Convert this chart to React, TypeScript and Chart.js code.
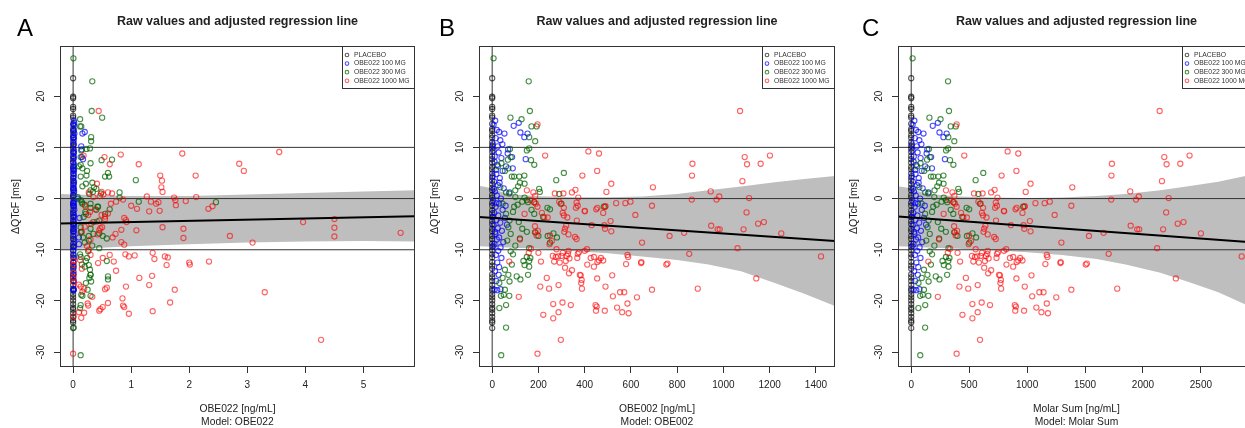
import React, { useEffect, useRef } from "react";
import { Chart, registerables } from "chart.js";

Chart.register(...registerables);

const FONT = '"Liberation Sans", Arial, Helvetica, sans-serif';
const TEXT_COLOR = "#222";
const AXIS_COLOR = "#333";
const BAND_COLOR = "#BEBEBE";

const TITLE = "Raw values and adjusted regression line";
const Y_TITLE = "ΔQTcF [ms]";
const Y_TICKS = [-30, -20, -10, 0, 10, 20];
const Y_MIN = -32.9;
const Y_MAX = 29.8;
const REF_Y = [10, 0, -10];

const GROUP_LABELS = ["PLACEBO", "OBE022 100 MG", "OBE022 300 MG", "OBE022 1000 MG"];
const GROUP_COLORS = ["rgba(0,0,0,0.65)", "rgba(0,0,255,0.7)", "rgba(0,100,0,0.72)", "rgba(255,0,0,0.62)"];

// Placebo: concentration 0 in every panel, ΔQTcF values
const PLACEBO_Y = [
  23.5, 19.9, 19.6, 17.9, 17.5, 16.2, 15.8, 14.6, 13.6, 13.2, 12.4, 11.9, 11.0, 10.3, 9.8, 9.1,
  8.3, 7.7, 7.0, 6.2, 5.7, 4.9, 4.1, 3.5, 2.8, 2.1, 1.6, 0.7, 0.2, -0.8, -1.4, -2.3, -2.9, -3.6,
  -4.4, -5.0, -5.9, -6.4, -7.3, -7.9, -8.8, -9.4, -10.1, -10.9, -11.5, -12.4, -13.1, -13.7,
  -14.8, -15.4, -16.1, -16.9, -17.6, -18.0, -18.7, -19.3, -19.9, -20.6, -21.3, -21.7, -22.4,
  -23.1, -23.8, -24.2, -25.3,
];

// OBE022 100 MG: [OBE022, OBE002, Molar Sum, ΔQTcF]
const BLUE = [
  [0.012, 13, 27, 15.2], [0.008, 6, 12, 14.4], [0.015, 20, 41, 13.4], [0.16, 53, 106, 12.7],
  [0.2, 30, 61, 13.0], [0.01, 93, 186, 14.2], [0.018, 115, 230, 14.8], [0.006, 122, 244, 12.9],
  [0.014, 139, 278, 12.0], [0.022, 153, 306, 12.7], [0.17, 145, 291, 7.7], [0.15, 86, 172, 8.1],
  [0.009, 89, 179, 5.9], [0.012, 67, 133, 8.8], [0.005, 60, 121, 6.3], [0.14, 24, 48, 10.2],
  [0.15, 69, 139, 9.6], [0.011, 35, 70, 11.4], [0.004, 15, 31, 11.8], [0.016, 5, 10, 9.4],
  [0.007, 28, 55, 9.0], [0.013, 40, 81, 7.9], [0.003, 10, 21, 7.2], [0.019, 22, 43, 6.6],
  [0.008, 45, 90, 5.4], [0.012, 18, 37, 4.8], [0.006, 33, 65, 4.0], [0.015, 8, 15, 3.3],
  [0.01, 25, 51, 2.6], [0.004, 50, 99, 2.0], [0.017, 12, 24, 1.4], [0.08, 38, 77, 0.0],
  [0.009, 20, 39, 0.6], [0.013, 4, 9, -0.4], [0.006, 30, 59, -1.0], [0.011, 15, 30, -1.6],
  [0.02, 45, 91, -2.2], [0.005, 9, 18, -2.8], [0.014, 26, 53, -3.3], [0.11, 55, 110, -3.8],
  [0.008, 18, 36, -4.2], [0.012, 35, 69, -4.7], [0.003, 6, 13, -5.2], [0.016, 24, 49, -5.8],
  [0.01, 42, 84, -6.3], [0.007, 14, 28, -6.9], [0.1, 30, 60, -7.6], [0.012, 20, 41, -8.0],
  [0.018, 48, 95, -8.5], [0.1, 10, 20, -8.9], [0.009, 36, 72, -9.5], [0.005, 26, 52, -10.2],
  [0.011, 16, 32, -11.0], [0.014, 40, 80, -11.6], [0.006, 22, 45, -12.5], [0.01, 30, 61, -13.4],
  [0.004, 12, 25, -14.2], [0.008, 28, 57, -14.9], [0.012, 18, 35, -16.1], [0.006, 10, 20, -17.8],
  [0.009, 22, 44, -17.9], [0.01, 36, 71, -17.7], [0.012, 3, 6, 10.6], [0.007, 11, 22, 8.2],
  [0.015, 16, 33, 5.6], [0.009, 2, 5, 4.4], [0.013, 7, 14, 1.9], [0.006, 17, 35, -0.9],
  [0.011, 3, 7, -3.6], [0.008, 13, 26, -6.5], [0.014, 5, 11, -9.3], [0.01, 32, 64, 3.1],
  [0.012, 58, 117, -1.4], [0.007, 44, 88, 10.6], [0.016, 64, 128, -5.1], [0.01, 75, 150, 1.2],
];

// OBE022 300 MG: [OBE022, OBE002, Molar Sum, ΔQTcF]
const GREEN = [
  [0.005, 6, 12, 27.4], [0.33, 158, 318, 22.9], [0.32, 163, 326, 17.1], [0.5, 79, 157, 15.8],
  [0.12, 127, 253, 15.5], [0.14, 170, 341, 14.1], [0.12, 192, 384, 14.1], [0.31, 160, 320, 12.0],
  [0.31, 186, 372, 11.2], [0.14, 150, 301, 9.4], [0.29, 160, 319, 9.8], [0.23, 77, 153, 9.7],
  [0.67, 68, 137, 7.6], [0.13, 80, 161, 8.1], [0.49, 168, 335, 7.5], [0.13, 182, 364, 6.6],
  [0.23, 139, 278, 4.5], [1.08, 277, 556, 3.6], [0.6, 310, 622, 5.0], [0.1, 25, 50, 6.3],
  [0.3, 40, 80, 6.9], [0.24, 55, 112, 5.4], [0.13, 85, 170, 4.3], [0.16, 70, 140, 5.9],
  [0.62, 95, 191, 4.3], [0.33, 120, 240, 3.1], [0.16, 112, 225, 2.4], [0.3, 100, 201, 1.6],
  [0.48, 74, 147, 1.0], [0.8, 60, 121, 1.2], [0.34, 206, 413, 1.3], [0.8, 140, 281, 0.2],
  [0.13, 150, 300, -0.3], [2.46, 155, 311, -0.7], [1.13, 130, 262, -0.6], [0.2, 110, 219, -1.2],
  [0.43, 95, 190, -1.6], [0.3, 239, 478, -1.8], [0.63, 250, 500, -2.1], [0.55, 117, 234, 4.3],
  [0.22, 140, 279, 2.9], [0.4, 203, 406, 1.9], [0.15, 182, 365, -0.7], [0.55, 182, 363, -3.0],
  [0.4, 170, 341, -2.2], [0.18, 220, 441, -3.6], [0.3, 297, 594, -1.0], [0.42, 483, 966, -1.6],
  [0.28, 290, 580, 0.9], [0.13, 185, 371, -6.6], [0.27, 200, 399, -7.3], [0.51, 240, 481, -7.3],
  [0.2, 250, 502, -8.6], [0.45, 265, 529, -6.8], [0.17, 280, 560, -7.6], [0.58, 120, 241, -7.8],
  [0.3, 130, 259, -5.9], [0.14, 150, 299, -6.5], [0.22, 60, 120, -3.0], [0.45, 75, 150, -4.3],
  [0.13, 70, 141, -5.6], [0.35, 80, 160, -6.9], [0.27, 65, 130, -8.2], [0.45, 160, 322, -9.7],
  [0.58, 160, 320, -12.2], [0.6, 106, 212, -15.2], [0.6, 122, 244, -15.8], [0.13, 39, 78, -30.6],
  [0.01, 60, 120, -25.2], [0.13, 60, 121, -20.8], [0.12, 31, 62, -21.4], [0.14, 50, 100, -18.8],
  [0.16, 38, 77, -19.0], [0.3, 74, 148, -19.0], [0.22, 31, 63, -16.5], [0.28, 45, 91, -15.5],
  [0.3, 70, 140, -14.9], [0.25, 55, 110, -17.8], [0.27, 140, 281, -13.0], [0.22, 135, 270, -12.2],
  [0.13, 150, 300, -11.4], [0.3, 155, 310, -14.9], [0.2, 160, 322, -13.3], [0.24, 165, 330, -11.6],
  [0.15, 85, 170, -12.9], [0.29, 55, 110, -13.9], [0.31, 75, 150, -16.2], [0.26, 80, 160, -10.3],
  [0.12, 90, 180, -10.9], [0.33, 100, 200, -9.2], [0.35, 115, 230, -4.6], [0.16, 45, 90, -1.0],
  [0.36, 35, 70, 2.2], [0.21, 90, 180, -2.6], [0.08, 100, 199, 0.3],
];

// OBE022 1000 MG, panel A: [OBE022, ΔQTcF]
const RED_A = [
  [0.44, 17.1], [0.18, 8.4], [0.54, 8.1], [0.63, 6.7], [0.82, 8.6], [1.13, 6.7], [1.88, 8.8],
  [3.55, 9.1], [2.86, 6.8], [2.94, 5.4], [2.11, 4.5], [1.5, 4.5], [1.53, 3.5], [1.52, 2.2],
  [1.54, 1.3], [0.41, 2.9], [0.27, 1.2], [0.49, 1.3], [0.52, 0.8], [0.46, 0.5], [0.6, 1.2],
  [0.67, 1.0], [1.27, 0.4], [1.74, 0.2], [1.76, -0.3], [2.12, 0.3], [1.34, -0.6], [1.47, -0.7],
  [0.74, -0.6], [0.86, -0.2], [1.94, -0.5], [2.33, -2.0], [2.4, -1.5], [1.0, -1.4], [1.1, -2.0],
  [1.49, -2.4], [1.31, -2.5], [1.43, -1.0], [1.77, -1.3], [0.91, -4.2], [0.88, -3.8], [1.09, -6.2],
  [0.73, -6.9], [0.68, -7.6], [0.83, -6.1], [0.88, -9.0], [0.49, -3.2], [0.41, -4.5], [0.47, -5.8],
  [0.31, -4.9], [0.21, -1.5], [0.26, -3.2], [0.2, -5.5], [0.38, -2.1], [0.42, -7.0], [0.3, -8.0],
  [0.15, -6.5], [0.24, -9.3], [0.55, -3.5], [0.65, -1.0], [0.0, -30.3], [4.27, -27.6], [3.3, -18.3],
  [5.64, -6.7], [4.5, -5.7], [4.5, -7.4], [4.5, -4.0], [3.96, -4.6], [3.09, -8.6], [2.7, -7.3],
  [1.9, -5.9], [1.9, -7.7], [1.54, -5.6], [0.83, -8.5], [0.92, -4.6], [0.5, -5.6], [0.45, -6.2],
  [0.55, -4.0], [0.6, -2.9], [1.37, -10.6], [1.4, -11.8], [1.58, -11.3], [1.63, -11.5],
  [1.61, -13.0], [2.0, -12.5], [2.01, -12.9], [2.34, -12.3], [0.9, -10.9], [0.96, -11.3],
  [1.06, -11.1], [0.63, -11.0], [0.7, -12.3], [0.74, -14.1], [0.43, -12.6], [0.51, -11.6],
  [0.27, -10.0], [0.3, -11.0], [0.12, -12.0], [0.15, -13.7], [1.36, -15.1], [1.14, -15.5],
  [1.31, -16.9], [1.75, -17.8], [1.67, -20.3], [1.37, -22.0], [0.91, -17.2], [0.58, -17.4],
  [0.55, -17.7], [0.85, -19.5], [0.86, -20.9], [0.88, -21.2], [0.96, -22.5], [0.6, -20.4],
  [0.47, -21.6], [0.51, -21.2], [0.45, -21.9], [0.25, -20.5], [0.26, -20.9], [0.33, -19.2],
  [0.1, -16.8], [0.13, -17.2], [0.19, -17.6], [0.16, -18.2], [0.1, -22.2], [0.14, -23.3],
  [0.19, -22.3], [0.01, -12.2], [0.01, -13.0], [0.01, -14.5], [0.005, -15.5], [0.01, -16.3],
  [0.01, -23.0], [0.29, -2.6], [0.35, 0.3],
];

// OBE022 1000 MG, panels B and C: [OBE002, Molar Sum, ΔQTcF]
const RED_BC = [
  [196, 392, 14.5], [229, 458, 8.4], [416, 832, 9.2], [462, 924, 8.8], [454, 908, 5.4], [390, 780, 4.5],
  [515, 1030, 2.9], [494, 988, 1.3], [695, 1390, 2.2], [866, 1732, 6.8], [864, 1728, 4.5],
  [1072, 2144, 17.1], [1092, 2184, 8.1], [1102, 2204, 6.7], [1082, 2164, 3.4], [1161, 2322, 6.8],
  [1201, 2402, 8.4], [945, 1890, 1.4], [982, 1964, 0.4], [970, 1940, -0.2], [1111, 2222, 0.1],
  [863, 1726, -0.2], [271, 542, 1.0], [308, 616, 1.0], [345, 690, 1.2], [360, 720, 1.7],
  [372, 744, 0.2], [178, 356, 1.2], [186, 372, 0.5], [290, 580, -0.6], [300, 600, -1.0],
  [310, 620, -1.8], [305, 610, -2.8], [365, 730, -0.8], [362, 724, -1.8], [455, 910, -1.8],
  [490, 980, -1.5], [536, 1072, -0.9], [576, 1152, -0.9], [598, 1196, -0.6], [691, 1382, -1.4],
  [400, 800, -2.4], [619, 1238, -3.2], [1100, 2200, -2.7], [182, 364, -0.7], [189, 378, -1.0],
  [196, 392, -1.6], [488, 976, -1.6], [480, 960, -2.8], [450, 900, -2.1], [370, 740, -1.4],
  [401, 802, -2.5], [325, 650, -3.7], [310, 620, -3.3], [215, 430, -2.8], [225, 450, -3.7],
  [240, 480, -3.7], [366, 732, -4.3], [512, 1024, -4.4], [430, 860, -5.2], [485, 970, -5.2],
  [488, 976, -5.9], [515, 1030, -6.4], [648, 1296, -8.6], [767, 1534, -7.3], [830, 1660, -6.7],
  [947, 1894, -5.3], [975, 1950, -6.0], [984, 1968, -6.0], [1087, 2174, -6.0], [1150, 2300, -4.9],
  [1175, 2350, -4.6], [1250, 2500, -6.8], [1061, 2122, -9.7], [852, 1704, -10.8], [1422, 2852, -11.3],
  [315, 630, -5.9], [320, 640, -5.3], [312, 624, -6.5], [330, 660, -7.0], [185, 370, -5.4],
  [198, 396, -6.3], [192, 384, -7.2], [188, 376, -6.6], [250, 500, -7.2], [248, 496, -8.9],
  [258, 516, -8.3], [365, 730, -7.9], [358, 716, -7.5], [278, 556, -9.9], [330, 660, -10.2],
  [328, 656, -10.8], [370, 740, -10.8], [375, 750, -10.5], [400, 800, -10.2], [410, 820, -9.9],
  [585, 1170, -11.0], [588, 1176, -11.4], [440, 880, -11.4], [455, 910, -12.4], [462, 924, -12.1],
  [470, 940, -11.6], [480, 960, -12.1], [645, 1290, -12.4], [758, 1516, -12.7], [1142, 2284, -15.6],
  [889, 1778, -17.6], [753, 1506, -12.9], [691, 1382, -17.8], [644, 1288, -12.6], [579, 1158, -12.8],
  [519, 1038, -15.0], [426, 852, -11.6], [440, 880, -13.3], [454, 908, -15.6], [490, 980, -17.2],
  [522, 1044, -19.1], [447, 894, -20.8], [449, 898, -21.9], [452, 904, -21.1], [487, 974, -21.9],
  [540, 1080, -21.3], [562, 1124, -22.2], [590, 1180, -22.4], [553, 1106, -18.3], [571, 1142, -18.3],
  [585, 1170, -20.5], [626, 1252, -19.3], [383, 766, -15.0], [385, 770, -16.5], [388, 776, -17.6],
  [387, 774, -15.9], [368, 736, -11.6], [411, 822, -12.9], [379, 758, -14.9], [332, 664, -14.6],
  [334, 668, -11.7], [322, 644, -11.2], [318, 636, -12.2], [315, 630, -13.5], [300, 600, -11.2],
  [292, 584, -12.5], [305, 610, -10.6], [275, 550, -11.4], [285, 570, -11.3], [262, 524, -11.2],
  [268, 536, -12.3], [211, 422, -12.3], [200, 400, -10.6], [168, 336, -9.8], [208, 416, -17.2],
  [221, 442, -22.7], [196, 392, -30.3], [297, 594, -27.6], [264, 528, -23.4], [287, 574, -22.2],
  [264, 528, -20.6], [304, 608, -20.3], [287, 574, -16.9], [236, 472, -15.5], [246, 492, -17.6],
  [340, 680, -20.8], [115, 230, -19.2], [74, 148, -12.3], [158, 316, -10.6], [345, 690, -14.0],
  [150, 300, 1.6], [165, 330, -0.3], [140, 280, -3.0], [120, 240, -8.0],
];

// Panel A (OBE022)
const A_X_TICKS = [0, 1, 2, 3, 4, 5];
const A_X_MIN = -0.226;
const A_X_MAX = 5.886;
const A_BAND_X = [-0.226, 0.3, 1.0, 2.0, 3.0, 4.0, 5.0, 5.886];
const A_BAND_UP = [0.9, 0.7, 0.5, 0.5, 0.8, 1.1, 1.4, 1.6];
const A_BAND_LO = [-10.0, -9.7, -9.3, -8.9, -8.6, -8.4, -8.3, -8.4];
const A_REG_X = [-0.226, 5.886];
const A_REG_Y = [-4.85, -3.45];

// Panel B (OBE002)
const B_X_TICKS = [0, 200, 400, 600, 800, 1000, 1200, 1400];
const B_X_MIN = -57;
const B_X_MAX = 1482;
const B_BAND_X = [-57, 0, 40, 100, 200, 362, 500, 647, 800, 935, 1076, 1222, 1350, 1482];
const B_BAND_UP = [2.5, 2.0, 1.3, 0.8, 0.45, 0.25, 0.25, 0.4, 0.9, 1.6, 2.35, 3.2, 3.8, 4.4];
const B_BAND_LO = [-9.3, -9.4, -9.5, -9.6, -9.8, -10.3, -10.7, -11.3, -12.0, -12.9, -14.2, -16.5, -18.6, -21.0];
const B_REG_X = [-57, 1482];
const B_REG_Y = [-3.6, -8.3];

// Panel C (Molar Sum)
const C_X_TICKS = [0, 500, 1000, 1500, 2000, 2500];
const C_X_MIN = -114;
const C_X_MAX = 2966;
const C_BAND_X = [-114, 0, 80, 200, 414, 700, 1000, 1300, 1600, 1850, 2150, 2420, 2650, 2966];
const C_BAND_UP = [2.4, 2.0, 1.3, 0.8, 0.4, 0.2, 0.1, 0.2, 0.5, 0.9, 1.6, 2.5, 3.3, 4.8];
const C_BAND_LO = [-9.3, -9.4, -9.5, -9.6, -9.8, -10.1, -10.5, -11.0, -11.8, -12.9, -14.5, -16.5, -18.3, -21.5];
const C_REG_X = [-114, 2966];
const C_REG_Y = [-3.5, -8.6];

const CANVAS_W = 420;
const CANVAS_H = 428;
const PLOT_TOP = 46;
const PLOT_BOTTOM = 367;

type Pt = { x: number; y: number };
type Panel = {
  offset: number;
  plotLeft: number;
  plotRight: number;
  letter: string;
  letterX: number;
  xMin: number;
  xMax: number;
  xTicks: number[];
  xTitle: string[];
  bandX: number[];
  bandUp: number[];
  bandLo: number[];
  regX: number[];
  regY: number[];
  groups: Pt[][];
};

const placeboPts = PLACEBO_Y.map((y) => ({ x: 0, y }));

const PANELS: Panel[] = [
  {
    offset: 0, plotLeft: 60, plotRight: 418, letter: "A", letterX: 17,
    xMin: A_X_MIN, xMax: A_X_MAX, xTicks: A_X_TICKS,
    xTitle: ["OBE022 [ng/mL]", "Model: OBE022"],
    bandX: A_BAND_X, bandUp: A_BAND_UP, bandLo: A_BAND_LO, regX: A_REG_X, regY: A_REG_Y,
    groups: [
      placeboPts,
      BLUE.map((r) => ({ x: r[0], y: r[3] })),
      GREEN.map((r) => ({ x: r[0], y: r[3] })),
      RED_A.map((r) => ({ x: r[0], y: r[1] })),
    ],
  },
  {
    offset: 420, plotLeft: 59, plotRight: 417, letter: "B", letterX: 19,
    xMin: B_X_MIN, xMax: B_X_MAX, xTicks: B_X_TICKS,
    xTitle: ["OBE002 [ng/mL]", "Model: OBE002"],
    bandX: B_BAND_X, bandUp: B_BAND_UP, bandLo: B_BAND_LO, regX: B_REG_X, regY: B_REG_Y,
    groups: [
      placeboPts,
      BLUE.map((r) => ({ x: r[1], y: r[3] })),
      GREEN.map((r) => ({ x: r[1], y: r[3] })),
      RED_BC.map((r) => ({ x: r[0], y: r[2] })),
    ],
  },
  {
    offset: 840, plotLeft: 58, plotRight: 417, letter: "C", letterX: 22,
    xMin: C_X_MIN, xMax: C_X_MAX, xTicks: C_X_TICKS,
    xTitle: ["Molar Sum [ng/mL]", "Model: Molar Sum"],
    bandX: C_BAND_X, bandUp: C_BAND_UP, bandLo: C_BAND_LO, regX: C_REG_X, regY: C_REG_Y,
    groups: [
      placeboPts,
      BLUE.map((r) => ({ x: r[2], y: r[3] })),
      GREEN.map((r) => ({ x: r[2], y: r[3] })),
      RED_BC.map((r) => ({ x: r[1], y: r[2] })),
    ],
  },
];

function buildChart(canvas: HTMLCanvasElement, p: Panel) {
  const xy = (xs: number[], ys: number[]) => xs.map((x, i) => ({ x, y: ys[i] }));
  const datasets: any[] = [];
  datasets.push({
    type: "line", data: xy(p.bandX, p.bandUp), fill: "+1", backgroundColor: BAND_COLOR,
    borderColor: "rgba(0,0,0,0)", borderWidth: 0, pointRadius: 0, tension: 0, order: 40,
  });
  datasets.push({
    type: "line", data: xy(p.bandX, p.bandLo), fill: false, backgroundColor: BAND_COLOR,
    borderColor: "rgba(0,0,0,0)", borderWidth: 0, pointRadius: 0, tension: 0, order: 40,
  });
  REF_Y.forEach((v) =>
    datasets.push({
      type: "line", data: [{ x: p.xMin, y: v }, { x: p.xMax, y: v }], borderColor: AXIS_COLOR,
      borderWidth: 1, pointRadius: 0, fill: false, order: 30,
    })
  );
  datasets.push({
    type: "line", data: [{ x: 0, y: Y_MIN }, { x: 0, y: Y_MAX }], borderColor: AXIS_COLOR,
    borderWidth: 1, pointRadius: 0, fill: false, order: 30,
  });
  p.groups.forEach((g, i) =>
    datasets.push({
      type: "scatter", label: GROUP_LABELS[i], data: g, showLine: false, pointStyle: "circle",
      radius: 2.6, borderWidth: 1.1, borderColor: GROUP_COLORS[i], backgroundColor: "rgba(0,0,0,0)",
      order: 10 - i,
    })
  );
  datasets.push({
    type: "line", data: xy(p.regX, p.regY), borderColor: "#000", borderWidth: 2, pointRadius: 0,
    fill: false, order: 1,
  });

  const decor = {
    id: "decor",
    afterDraw(chart: any) {
      const { ctx, chartArea: a, scales } = chart;
      const xs = scales.x;
      const ys = scales.y;
      ctx.save();
      // box
      ctx.strokeStyle = AXIS_COLOR;
      ctx.lineWidth = 1;
      ctx.strokeRect(Math.round(a.left) + 0.5, Math.round(a.top) + 0.5, Math.round(a.right - a.left) - 1, Math.round(a.bottom - a.top) - 1);
      ctx.fillStyle = TEXT_COLOR;
      // x tick labels
      ctx.font = `10px ${FONT}`;
      ctx.textAlign = "center";
      ctx.textBaseline = "middle";
      xs.ticks.forEach((t: any) => ctx.fillText(String(t.value), xs.getPixelForValue(t.value), a.bottom + 18));
      // y tick labels (rotated)
      ys.ticks.forEach((t: any) => {
        const py = ys.getPixelForValue(t.value);
        ctx.save();
        ctx.translate(a.left - 19, py);
        ctx.rotate(-Math.PI / 2);
        ctx.fillText(String(t.value), 0, 0);
        ctx.restore();
      });
      // y title
      ctx.font = `10.5px ${FONT}`;
      ctx.save();
      ctx.translate(a.left - 44, (a.top + a.bottom) / 2);
      ctx.rotate(-Math.PI / 2);
      ctx.fillText(Y_TITLE, 0, 0);
      ctx.restore();
      // x title
      ctx.font = `10.3px ${FONT}`;
      const cx = (a.left + a.right) / 2;
      ctx.fillText(p.xTitle[0], cx, a.bottom + 42);
      ctx.fillText(p.xTitle[1], cx, a.bottom + 55);
      // main title
      ctx.font = `bold 12.5px ${FONT}`;
      ctx.textBaseline = "alphabetic";
      ctx.fillText(TITLE, cx, 25);
      // panel letter
      ctx.font = `24px ${FONT}`;
      ctx.textAlign = "left";
      ctx.fillStyle = "#000";
      ctx.fillText(p.letter, p.letterX, 36);
      // legend
      const lw = 73;
      const lh = 43;
      const lx = Math.round(a.right) - lw;
      const ly = Math.round(a.top);
      ctx.fillStyle = "#fff";
      ctx.fillRect(lx, ly, lw, lh);
      ctx.strokeStyle = AXIS_COLOR;
      ctx.strokeRect(lx + 0.5, ly + 0.5, lw - 1, lh - 1);
      ctx.font = `6.8px ${FONT}`;
      ctx.textBaseline = "middle";
      GROUP_LABELS.forEach((lab, i) => {
        const yy = ly + 9 + i * 8.6;
        ctx.beginPath();
        ctx.arc(lx + 5, yy, 1.8, 0, Math.PI * 2);
        ctx.strokeStyle = GROUP_COLORS[i];
        ctx.lineWidth = 1.1;
        ctx.stroke();
        ctx.fillStyle = "#333";
        ctx.fillText(lab, lx + 12, yy);
      });
      ctx.restore();
    },
  };

  return new Chart(canvas, {
    type: "scatter",
    data: { datasets },
    options: {
      responsive: false,
      animation: false,
      devicePixelRatio: 1,
      events: [],
      layout: {
        padding: { left: p.plotLeft, right: CANVAS_W - p.plotRight, top: PLOT_TOP, bottom: CANVAS_H - PLOT_BOTTOM },
      },
      plugins: { legend: { display: false }, title: { display: false }, tooltip: { enabled: false } },
      scales: {
        x: {
          type: "linear", position: "bottom", min: p.xMin, max: p.xMax,
          afterBuildTicks: (s: any) => { s.ticks = p.xTicks.map((v) => ({ value: v })); },
          afterFit: (s: any) => { s.height = 0; },
          ticks: { display: false },
          grid: { display: true, drawOnChartArea: false, drawTicks: true, tickLength: 6, color: AXIS_COLOR, lineWidth: 1 },
          border: { display: false },
        },
        y: {
          type: "linear", position: "left", min: Y_MIN, max: Y_MAX,
          afterBuildTicks: (s: any) => { s.ticks = Y_TICKS.map((v) => ({ value: v })); },
          afterFit: (s: any) => { s.width = 0; },
          ticks: { display: false },
          grid: { display: true, drawOnChartArea: false, drawTicks: true, tickLength: 6, color: AXIS_COLOR, lineWidth: 1 },
          border: { display: false },
        },
      },
    } as any,
    plugins: [decor],
  });
}

function PanelChart({ p }: { p: Panel }) {
  const ref = useRef<HTMLCanvasElement>(null);
  useEffect(() => {
    if (!ref.current) return;
    const chart = buildChart(ref.current, p);
    return () => chart.destroy();
  }, [p]);
  return (
    <canvas
      ref={ref}
      width={CANVAS_W}
      height={CANVAS_H}
      style={{ position: "absolute", left: p.offset, top: 0, width: CANVAS_W, height: CANVAS_H }}
    />
  );
}

export default function App() {
  return (
    <div
      style={{
        position: "fixed", left: 0, top: 0, width: 1245, height: 428, overflow: "hidden", background: "#fff",
      }}
    >
      {PANELS.map((p) => (
        <PanelChart key={p.letter} p={p} />
      ))}
    </div>
  );
}
